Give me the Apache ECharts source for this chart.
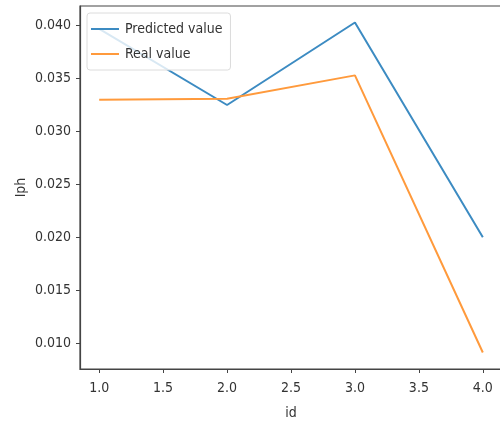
<!DOCTYPE html>
<html>
<head>
<meta charset="utf-8">
<script src="https://cdn.jsdelivr.net/npm/echarts@6/dist/echarts.min.js"></script>
<style>
  html, body { margin: 0; padding: 0; background: #fff; overflow: hidden; }
  #chart { width: 502px; height: 421px; }
</style>
</head>
<body>
<div id="chart"></div>
<script>
// Sample ids and the two Iph series
const ids = [1, 2, 3, 4];
const predictedValues = [0.0397, 0.0325, 0.0403, 0.0200];
const realValues = [0.0330, 0.0331, 0.0353, 0.0091];
const xTicks = [1.0, 1.5, 2.0, 2.5, 3.0, 3.5, 4.0];
const yTicks = [0.010, 0.015, 0.020, 0.025, 0.030, 0.035, 0.040];

const FONT = "'DejaVu Sans Condensed', 'Liberation Sans Narrow', 'DejaVu Sans', sans-serif";
const SPINE = '#444';

const chart = echarts.init(document.getElementById('chart'), null, { renderer: 'canvas' });

function axisCommon(ticks, digits, margin) {
  return {
    axisLine: { show: true, onZero: false, lineStyle: { color: SPINE, width: 1.2 } },
    axisTick: { show: true, inside: false, length: 4, customValues: ticks, lineStyle: { color: SPINE, width: 1 } },
    axisLabel: {
      show: true, customValues: ticks, color: '#333', fontFamily: FONT, fontSize: 14, margin: margin,
      formatter: v => Number(v).toFixed(digits)
    },
    splitLine: { show: false }
  };
}

chart.setOption({
  animation: false,
  backgroundColor: '#fff',
  textStyle: { fontFamily: FONT },
  grid: {
    left: 80, right: 0, top: 6, bottom: 52,
    containLabel: false, outerBoundsMode: 'none',
    show: true, borderColor: SPINE, borderWidth: 1.2
  },
  legend: {
    orient: 'vertical',
    left: 87, top: 13,
    padding: [9, 8, 9, 4],
    itemGap: 11,
    itemWidth: 28, itemHeight: 2,
    icon: 'rect',
    borderColor: '#dcdcdc', borderWidth: 1, borderRadius: 3,
    backgroundColor: 'rgba(255,255,255,0.8)',
    textStyle: { fontFamily: FONT, fontSize: 14, color: '#333', padding: [0, 0, 0, 1] },
    data: ['Predicted value', 'Real value']
  },
  xAxis: Object.assign({
    type: 'value', min: 0.85, max: 4.15,
    name: 'id', nameLocation: 'middle', nameGap: 37, nameMoveOverlap: false,
    nameTextStyle: { fontFamily: FONT, fontSize: 14, color: '#333' }
  }, axisCommon(xTicks, 1, 12)),
  yAxis: Object.assign({
    type: 'value', min: 0.00754, max: 0.04186,
    name: 'Iph', nameLocation: 'middle', nameGap: 52, nameMoveOverlap: false,
    nameTextStyle: { fontFamily: FONT, fontSize: 14, color: '#333' }
  }, axisCommon(yTicks, 3, 9)),
  series: [
    {
      name: 'Predicted value', type: 'line', symbol: 'none',
      lineStyle: { color: '#3c8bc2', width: 2 }, itemStyle: { color: '#3c8bc2' },
      data: ids.map((id, i) => [id, predictedValues[i]]), z: 3
    },
    {
      name: 'Real value', type: 'line', symbol: 'none',
      lineStyle: { color: '#ff9a3c', width: 2 }, itemStyle: { color: '#ff9a3c' },
      data: ids.map((id, i) => [id, realValues[i]]), z: 4
    }
  ]
});
</script>
</body>
</html>
